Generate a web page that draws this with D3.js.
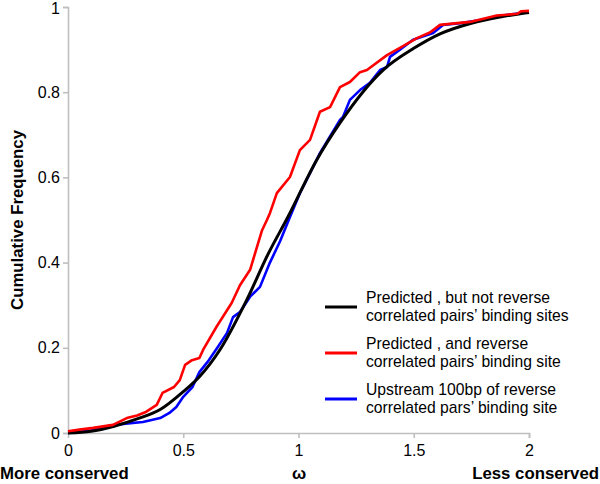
<!DOCTYPE html>
<html><head><meta charset="utf-8">
<script src="https://cdn.jsdelivr.net/npm/d3@7"></script>
<style>body{margin:0;background:#fff;}svg{display:block;font-family:Arial,"Liberation Sans",sans-serif;}</style>
</head><body>
<svg id="c" width="600" height="484"></svg>
<script>
const xTicks = [0, 0.5, 1, 1.5, 2];
const yTicks = [0, 0.2, 0.4, 0.6, 0.8, 1];

const blackW = [0, 0.1, 0.2, 0.3, 0.4, 0.5, 0.57, 0.66, 0.775, 0.868, 0.954, 1.079, 1.18, 1.367, 1.5, 1.614, 1.75, 1.88, 2.0];
const blackF = [0, 0.004, 0.016, 0.033, 0.055, 0.097, 0.132, 0.196, 0.312, 0.42, 0.507, 0.641, 0.728, 0.852, 0.903, 0.937, 0.962, 0.977, 0.987];

const redW = [0, 0.05, 0.11, 0.195, 0.255, 0.3, 0.34, 0.385, 0.41, 0.46, 0.485, 0.508, 0.538, 0.57, 0.586, 0.645, 0.71, 0.746, 0.79, 0.82, 0.842, 0.863, 0.876, 0.906, 0.963, 1.006, 1.05, 1.093, 1.137, 1.18, 1.223, 1.267, 1.297, 1.384, 1.44, 1.514, 1.57, 1.614, 1.744, 1.86, 1.95, 1.965, 2.0];
const redF = [0.004, 0.008, 0.012, 0.019, 0.035, 0.041, 0.05, 0.066, 0.094, 0.108, 0.124, 0.16, 0.171, 0.176, 0.195, 0.25, 0.305, 0.347, 0.383, 0.437, 0.476, 0.5, 0.516, 0.563, 0.601, 0.664, 0.688, 0.754, 0.765, 0.812, 0.824, 0.847, 0.852, 0.887, 0.904, 0.927, 0.94, 0.958, 0.965, 0.98, 0.984, 0.99, 0.991];

const blueW = [0, 0.1, 0.18, 0.25, 0.325, 0.4, 0.44, 0.47, 0.5, 0.54, 0.57, 0.61, 0.65, 0.69, 0.716, 0.746, 0.79, 0.833, 0.876, 0.92, 0.963, 1.006, 1.063, 1.093, 1.18, 1.193, 1.223, 1.267, 1.31, 1.354, 1.384, 1.397, 1.44, 1.497, 1.584, 1.627, 1.7, 1.844, 1.9, 2.0];
const blueF = [0, 0.006, 0.017, 0.022, 0.026, 0.035, 0.047, 0.061, 0.085, 0.108, 0.143, 0.17, 0.202, 0.235, 0.272, 0.284, 0.32, 0.343, 0.4, 0.45, 0.507, 0.563, 0.624, 0.657, 0.735, 0.742, 0.782, 0.805, 0.822, 0.852, 0.859, 0.883, 0.9, 0.923, 0.939, 0.958, 0.962, 0.974, 0.981, 0.988];

const seriesNames = ["Predicted , but not reverse|correlated pairs\u2019 binding sites",
                     "Predicted , and reverse|correlated pairs\u2019 binding site",
                     "Upstream 100bp of reverse|correlated pars\u2019 binding site"];
const seriesColors = ["#000000", "#ff0000", "#0000ff"];

const svg = d3.select("#c");
const x = d3.scaleLinear().domain([0, 2]).range([68, 529]);
const y = d3.scaleLinear().domain([0, 1]).range([433, 7]);
const axisColor = "#bfbfbf";

const xa = svg.append("g").attr("transform", "translate(0,433)")
  .call(d3.axisBottom(x).tickValues(xTicks).tickSize(5).tickFormat(d => d3.format("")(d)));
const ya = svg.append("g").attr("transform", "translate(68,0)")
  .call(d3.axisLeft(y).tickValues(yTicks).tickSize(5).tickFormat(d => d3.format("")(d)));
[xa, ya].forEach(a => {
  a.select(".domain").attr("stroke", axisColor).attr("stroke-width", 1.6);
  a.selectAll(".tick line").attr("stroke", axisColor).attr("stroke-width", 1.6);
  a.selectAll(".tick text").attr("fill", "#000").attr("font-size", 16).attr("font-family", "Arial, 'Liberation Sans', sans-serif");
});
xa.select(".tick line").remove();
xa.selectAll(".tick text").attr("dy", "0.71em").attr("y", 12);
ya.selectAll(".tick text").attr("x", -8);
ya.selectAll(".tick").filter(d => d === 1).select("text").attr("dy", "0.42em");

const mk = (W, F) => W.map((w, i) => [w, F[i]]);
const series = [mk(blackW, blackF), mk(redW, redF), mk(blueW, blueF)];
const lineSmooth = d3.line().x(d => x(d[0])).y(d => y(d[1])).curve(d3.curveMonotoneX);
const lineJag = d3.line().x(d => x(d[0])).y(d => y(d[1]));
[2, 0, 1].forEach(i => {
  svg.append("path").datum(series[i])
    .attr("d", i === 0 ? lineSmooth : lineJag)
    .attr("fill", "none").attr("stroke", seriesColors[i])
    .attr("stroke-width", i === 0 ? 3 : 2.6).attr("stroke-linejoin", "round");
});

const legY = [307, 353, 399];
seriesNames.forEach((n, i) => {
  const g = svg.append("g");
  g.append("line").attr("x1", 325).attr("x2", 357).attr("y1", legY[i]).attr("y2", legY[i])
    .attr("stroke", seriesColors[i]).attr("stroke-width", 3);
  n.split("|").forEach((t, j) => {
    g.append("text").attr("x", 366).attr("y", legY[i] - 9 + j * 18).attr("dy", "0.35em")
      .attr("font-size", 15.7).text(t);
  });
});

svg.append("text").attr("x", 0).attr("y", 479).attr("font-size", 16.8).attr("font-weight", "bold").text("More conserved");
svg.append("text").attr("x", 299).attr("y", 479).attr("text-anchor", "middle").attr("font-size", 16.8).attr("font-weight", "bold").text("\u03c9");
svg.append("text").attr("x", 599).attr("y", 479).attr("text-anchor", "end").attr("font-size", 16.8).attr("font-weight", "bold").text("Less conserved");
svg.append("text").attr("transform", "translate(17,220) rotate(-90)").attr("dy", "0.35em").attr("text-anchor", "middle")
  .attr("font-size", 16.8).attr("font-weight", "bold").text("Cumulative Frequency");
</script>
</body></html>
